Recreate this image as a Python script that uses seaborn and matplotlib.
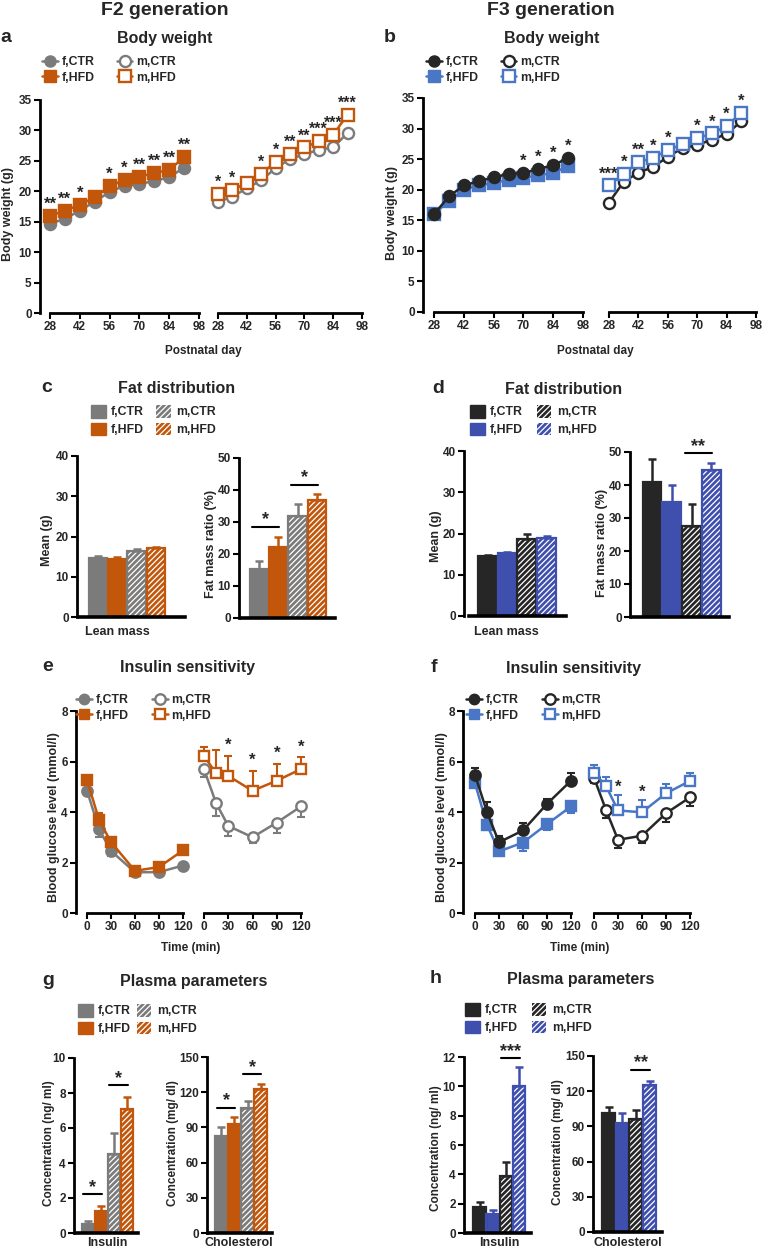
import numpy as np
import pandas as pd
import matplotlib
matplotlib.use("Agg")
import matplotlib.pyplot as plt
import seaborn as sns
from matplotlib.lines import Line2D
from matplotlib.patches import Patch

sns.set_style("white")
plt.rcParams["font.family"] = ["Liberation Sans", "DejaVu Sans"]
plt.rcParams["hatch.linewidth"] = 0.9

W, H = 769, 1250

# ---------------- colours ----------------
GRAY = "#7b7b7b"
ORANGE = "#c2570c"
DARK = "#262626"
BLUE_L = "#4a76c6"
BLUE_B = "#3f4fae"

# ---------------- data ----------------
groups = ["f,CTR", "f,HFD", "m,CTR", "m,HFD"]

days = [28, 35, 42, 49, 56, 63, 70, 77, 84, 91]
day_ticks = [28, 42, 56, 70, 84, 98]

f2_f_ctr = [14.65, 15.5, 16.8, 18.3, 19.9, 20.9, 21.2, 21.7, 22.3, 23.9]
f2_f_hfd = [16.0, 16.8, 17.8, 19.0, 20.8, 21.9, 22.4, 23.0, 23.5, 25.6]
f2_m_ctr = [18.3, 19.1, 20.5, 21.8, 23.8, 25.3, 26.1, 26.8, 27.2, 29.6]
f2_m_hfd = [19.5, 20.2, 21.4, 22.9, 24.8, 26.2, 27.2, 28.2, 29.3, 32.6]
f2_f_sig = ["**", "**", "*", "", "*", "*", "**", "**", "**", "**"]
f2_m_sig = ["*", "*", "", "*", "*", "**", "**", "***", "***", "***"]

f3_f_ctr = [16.0, 18.9, 20.7, 21.4, 22.0, 22.6, 22.7, 23.4, 24.0, 25.2]
f3_f_hfd = [16.0, 18.2, 20.0, 20.7, 21.1, 21.6, 21.9, 22.4, 22.7, 23.9]
f3_m_ctr = [17.9, 21.3, 22.8, 23.7, 25.4, 26.8, 27.3, 28.2, 29.1, 31.2]
f3_m_hfd = [20.7, 22.6, 24.5, 25.2, 26.5, 27.4, 28.4, 29.2, 30.4, 32.6]
f3_f_sig = ["", "", "", "", "", "", "*", "*", "*", "*"]
f3_m_sig = ["***", "*", "**", "*", "*", "", "*", "*", "*", "*"]

# insulin tolerance test
itt_time = [0, 15, 30, 60, 90, 120]
itt_ticks = [0, 30, 60, 90, 120]

e_f_ctr = [4.85, 3.32, 2.46, 1.61, 1.62, 1.88]
e_f_ctr_err = [0.15, 0.30, 0.20, 0.15, 0.10, 0.10]
e_f_hfd = [5.27, 3.69, 2.81, 1.67, 1.82, 2.48]
e_f_hfd_err = [0.10, 0.26, 0.10, 0.10, 0.10, 0.10]
e_m_ctr = [5.69, 4.35, 3.45, 3.00, 3.58, 4.22]
e_m_ctr_err = [0.30, 0.50, 0.42, 0.24, 0.40, 0.40]
e_m_hfd = [6.22, 5.53, 5.43, 4.84, 5.24, 5.70]
e_m_hfd_err = [0.37, 0.93, 0.80, 0.80, 0.66, 0.47]
e_m_sig = ["", "", "*", "*", "*", "*"]

f_f_ctr = [5.47, 4.00, 2.80, 3.27, 4.32, 5.24]
f_f_ctr_err = [0.27, 0.38, 0.25, 0.29, 0.20, 0.29]
f_f_hfd = [5.14, 3.49, 2.44, 2.79, 3.52, 4.22]
f_f_hfd_err = [0.15, 0.20, 0.15, 0.35, 0.22, 0.26]
f_m_ctr = [5.36, 4.08, 2.90, 3.06, 3.95, 4.58]
f_m_ctr_err = [0.20, 0.30, 0.33, 0.29, 0.33, 0.33]
f_m_hfd = [5.56, 5.03, 4.06, 3.99, 4.74, 5.23]
f_m_hfd_err = [0.30, 0.34, 0.62, 0.49, 0.36, 0.33]
f_m_sig = ["", "", "*", "*", "", ""]

# bars
c_lean = [14.7, 14.5, 16.5, 17.1]
c_lean_err = [0.4, 0.3, 0.4, 0.4]
c_fat = [15.2, 22.3, 32.0, 36.9]
c_fat_err = [2.6, 3.1, 3.5, 1.7]
c_fat_sig = [(0, 1, "*"), (2, 3, "*")]

d_lean = [14.5, 15.2, 18.6, 19.0]
d_lean_err = [0.4, 0.4, 1.4, 0.5]
d_fat = [41.0, 34.8, 27.5, 44.6]
d_fat_err = [6.8, 5.1, 6.6, 2.0]
d_fat_sig = [(2, 3, "**")]

g_ins = [0.51, 1.23, 4.52, 7.08]
g_ins_err = [0.15, 0.33, 1.17, 0.70]
g_ins_sig = [(0, 1, "*"), (2, 3, "*")]
g_chol = [82.4, 92.9, 106.5, 123.0]
g_chol_err = [7.6, 5.7, 5.7, 4.3]
g_chol_sig = [(0, 1, "*"), (2, 3, "*")]

h_ins = [1.75, 1.30, 3.90, 10.05]
h_ins_err = [0.34, 0.25, 0.92, 1.25]
h_ins_sig = [(2, 3, "***")]
h_chol = [101.0, 93.2, 96.0, 125.0]
h_chol_err = [5.8, 7.8, 8.0, 4.0]
h_chol_sig = [(2, 3, "**")]

# ---------------- helpers ----------------
fig = plt.figure(figsize=(W / 100, H / 100), dpi=100)
LABEL_FONT = ["Liberation Sans Narrow", "Liberation Sans", "DejaVu Sans"]


def fx(px):
    return px / W


def fy(py):
    return 1 - py / H


def px_axes(l, r, t, b):
    ax = fig.add_axes([fx(l), fy(b), (r - l) / W, (b - t) / H])
    ax.patch.set_alpha(0)
    for s in ("top", "right"):
        ax.spines[s].set_visible(False)
    return ax


def style_ticks(ax):
    ax.tick_params(axis="both", which="both", direction="out", length=4, width=1.5,
                   color="black", pad=2, labelsize=8.5, bottom=True, left=True)
    for lab in ax.get_xticklabels() + ax.get_yticklabels():
        lab.set_fontfamily("Liberation Sans")
        lab.set_fontweight("bold")


def ylabel_at(ax, text, xp, yp, size=9):
    ax.set_ylabel(text, fontfamily=LABEL_FONT, fontweight="bold", fontsize=size, va="center")
    ax.yaxis.set_label_coords(fx(xp), fy(yp), transform=fig.transFigure)


def xlabel_at(ax, text, xp, yp, size=8.5):
    ax.set_xlabel(text, fontfamily="Liberation Sans", fontweight="bold", fontsize=size, va="center")
    ax.xaxis.set_label_coords(fx(xp), fy(yp), transform=fig.transFigure)


def text_at(xp, yp, s, size, ha="center", va="baseline"):
    fig.text(fx(xp), fy(yp), s, fontsize=size, fontweight="bold", ha=ha, va=va,
             fontfamily="Liberation Sans")


def plot_series(ax, x, y, color, marker, filled, ms, z, err=None, err_up=True):
    if err is not None:
        zeros = [0] * len(err)
        yerr = [zeros, err] if err_up else [err, zeros]
        cont = ax.errorbar(x, y, yerr=yerr, fmt="none", ecolor=color, elinewidth=1.5,
                           capsize=3, capthick=1.5, zorder=z - 0.5)
        for art in cont.get_children():
            art.set_clip_on(False)
    sns.lineplot(x=x, y=y, ax=ax, color=color, marker=marker, markersize=ms,
                 markerfacecolor=color if filled else "white", markeredgecolor=color,
                 markeredgewidth=1.7, linewidth=1.8, zorder=z, clip_on=False, errorbar=None)


def stars(ax, x, y, labels, dy=3, size=12):
    for xi, yi, s in zip(x, y, labels):
        if s:
            ax.annotate(s, (xi, yi), xytext=(0, dy), textcoords="offset points", ha="center",
                        va="bottom", fontsize=size, fontweight="bold", annotation_clip=False,
                        fontfamily="Liberation Sans")


def style_line_axes(ax, xlim, ylim, xticks, yticks, show_y):
    ax.set_xlim(*xlim)
    ax.set_ylim(*ylim)
    ax.set_xticks(xticks)
    ax.spines["bottom"].set_bounds(xticks[0], xticks[-1])
    ax.spines["bottom"].set_linewidth(2)
    ax.spines["bottom"].set_color("black")
    if show_y:
        ax.set_yticks(yticks)
        ax.spines["left"].set_linewidth(2)
        ax.spines["left"].set_color("black")
    else:
        ax.spines["left"].set_visible(False)
        ax.set_yticks([])
    ax.grid(False)
    style_ticks(ax)
    if not show_y:
        ax.tick_params(left=False, labelleft=False)


def line_legend(handles, xp, yp, colsp):
    fig.legend(handles, groups, loc="upper left", bbox_to_anchor=(fx(xp), fy(yp)), ncol=2,
               frameon=False, prop=dict(family="Liberation Sans", weight="bold", size=8.8),
               handlelength=1.3, handletextpad=0.3, columnspacing=colsp, labelspacing=0.3,
               borderpad=0, borderaxespad=0)


def line_handles(c_ctr, c_hfd, ms):
    return [Line2D([0], [0], color=c_ctr, marker="o", ms=ms, mfc=c_ctr, mec=c_ctr, lw=1.8),
            Line2D([0], [0], color=c_hfd, marker="s", ms=ms, mfc=c_hfd, mec=c_hfd, lw=1.8),
            Line2D([0], [0], color=c_ctr, marker="o", ms=ms, mfc="white", mec=c_ctr, mew=1.7, lw=1.8),
            Line2D([0], [0], color=c_hfd, marker="s", ms=ms, mfc="white", mec=c_hfd, mew=1.7, lw=1.8)]


def bar_legend(colors, xp, yp, colsp):
    handles = [Patch(facecolor=colors[0], edgecolor=colors[0]),
               Patch(facecolor=colors[1], edgecolor=colors[1]),
               Patch(facecolor=colors[2], edgecolor="white", hatch="//////", lw=0),
               Patch(facecolor=colors[3], edgecolor="white", hatch="//////", lw=0)]
    fig.legend(handles, groups, loc="upper left", bbox_to_anchor=(fx(xp), fy(yp)), ncol=2,
               frameon=False, prop=dict(family="Liberation Sans", weight="bold", size=8.8),
               handlelength=1.2, handleheight=1.2, handletextpad=0.45, columnspacing=colsp,
               labelspacing=0.35, borderpad=0, borderaxespad=0)


def bar_axes(yspine, c0, c3, right, top, bottom, xstart):
    ax = px_axes(yspine, right, top, bottom)
    unit = (c3 - c0) / 3.0
    lim = ((yspine - c0) / unit, (right - c0) / unit)
    start = (xstart - c0) / unit
    return ax, lim, start


def bar_panel(ax, lim, start, vals, errs, colors, ylim, yticks, sig, sig_off):
    df = pd.DataFrame({"group": groups, "value": vals})
    sns.barplot(data=df, x="group", y="value", hue="group", palette=colors, order=groups,
                hue_order=groups, width=0.95, saturation=1, errorbar=None, legend=False,
                ax=ax, linewidth=0)
    for i, p in enumerate(ax.patches):
        if i >= 2:
            p.set_hatch("//////")
            p.set_edgecolor("white")
            p.set_linewidth(0)
    sns.barplot(data=df, x="group", y="value", hue="group", palette=colors, order=groups,
                hue_order=groups, width=0.95, saturation=1, errorbar=None, legend=False,
                ax=ax, fill=False, linewidth=1.6)
    for i in range(4):
        ax.errorbar([i], [vals[i]], yerr=[[0], [errs[i]]], fmt="none", ecolor=colors[i],
                    elinewidth=1.8, capsize=3, capthick=1.8, zorder=5)
    for (i, j, s) in sig:
        top = max(vals[i] + errs[i], vals[j] + errs[j]) + sig_off
        ax.plot([i - 0.35, j + 0.05], [top, top], color="black", lw=1.5, clip_on=False)
        ax.annotate(s, ((i + j) / 2 - 0.15, top), xytext=(0, -1), textcoords="offset points",
                    ha="center", va="bottom", fontsize=13, fontweight="bold",
                    annotation_clip=False, fontfamily="Liberation Sans")
    ax.set_xlim(*lim)
    ax.set_ylim(*ylim)
    ax.set_yticks(yticks)
    ax.set_xticks([])
    ax.set_xlabel("")
    ax.set_ylabel("")
    ax.spines["bottom"].set_bounds(start, lim[1])
    ax.spines["bottom"].set_linewidth(2.6)
    ax.spines["bottom"].set_color("black")
    ax.spines["left"].set_linewidth(2)
    ax.spines["left"].set_color("black")
    ax.grid(False)
    style_ticks(ax)


# ---------------- titles ----------------
text_at(165, 15, "F2 generation", 14)
text_at(551, 15, "F3 generation", 14)
for (lx, ly, letter, tx, title) in [
        (6, 42, "a", 165, "Body weight"), (390, 42, "b", 552, "Body weight"),
        (47, 392, "c", 177, "Fat distribution"), (438, 393, "d", 564, "Fat distribution"),
        (48, 671, "e", 187, "Insulin sensitivity"), (434, 672, "f", 574, "Insulin sensitivity"),
        (48, 985, "g", 194, "Plasma parameters"), (436, 983, "h", 581, "Plasma parameters")]:
    text_at(lx, ly, letter, 14)
    text_at(tx, ly + 1, title, 11.5)

# ---------------- panel a ----------------
axL = px_axes(40, 199, 100, 313)
axR = px_axes(218, 362, 100, 313)
plot_series(axL, days, f2_f_ctr, GRAY, "o", True, 8, 3)
plot_series(axL, days, f2_f_hfd, ORANGE, "s", True, 8, 4)
plot_series(axR, days, f2_m_ctr, GRAY, "o", False, 8, 3)
plot_series(axR, days, f2_m_hfd, ORANGE, "s", False, 8, 4)
stars(axL, days, np.maximum(f2_f_ctr, f2_f_hfd), f2_f_sig)
stars(axR, days, np.maximum(f2_m_ctr, f2_m_hfd), f2_m_sig, size=11.5)
style_line_axes(axL, (23.3, 98), (0, 35), day_ticks, range(0, 36, 5), True)
style_line_axes(axR, (28, 98), (0, 35), day_ticks, [], False)
ylabel_at(axL, "Body weight (g)", 8, 214)
text_at(203, 354, "Postnatal day", 8.5)
line_legend(line_handles(GRAY, ORANGE, 8), 42, 56, 1.8)

# ---------------- panel b ----------------
axL = px_axes(423, 583, 98, 312)
axR = px_axes(609, 756, 98, 312)
plot_series(axL, days, f3_f_hfd, BLUE_L, "s", True, 8, 3)
plot_series(axL, days, f3_f_ctr, DARK, "o", True, 8, 4)
plot_series(axR, days, f3_m_ctr, DARK, "o", False, 8, 3)
plot_series(axR, days, f3_m_hfd, BLUE_L, "s", False, 8, 4)
stars(axL, days, np.maximum(f3_f_ctr, f3_f_hfd), f3_f_sig)
stars(axR, days, np.maximum(f3_m_ctr, f3_m_hfd), f3_m_sig)
style_line_axes(axL, (22.8, 98), (0, 35), day_ticks, range(0, 36, 5), True)
style_line_axes(axR, (28, 98), (0, 35), day_ticks, [], False)
ylabel_at(axL, "Body weight (g)", 392, 213)
text_at(595, 354, "Postnatal day", 8.5)
line_legend(line_handles(DARK, BLUE_L, 8), 426, 56, 1.8)

# ---------------- panel c ----------------
F2_BAR = [GRAY, ORANGE, GRAY, ORANGE]
F3_BAR = [DARK, BLUE_B, DARK, BLUE_B]

ax, lim, st = bar_axes(77, 98, 156, 185, 456, 617, 80)
bar_panel(ax, lim, st, c_lean, c_lean_err, F2_BAR, (0, 40), range(0, 41, 10), [], 0)
ylabel_at(ax, "Mean (g)", 47, 540)
xlabel_at(ax, "Lean mass", 117, 632, 9)
ax, lim, st = bar_axes(239, 259, 317, 335, 458, 618, 242)
bar_panel(ax, lim, st, c_fat, c_fat_err, F2_BAR, (0, 50), range(0, 51, 10), c_fat_sig, 3)
ylabel_at(ax, "Fat mass ratio (%)", 211, 544)
bar_legend(F2_BAR, 91, 405, 1.0)

# ---------------- panel d ----------------
ax, lim, st = bar_axes(464, 487.5, 546.5, 566, 451, 616, 469)
bar_panel(ax, lim, st, d_lean, d_lean_err, F3_BAR, (0, 40), range(0, 41, 10), [], 0)
ylabel_at(ax, "Mean (g)", 436, 536)
xlabel_at(ax, "Lean mass", 506, 632, 9)
ax, lim, st = bar_axes(630, 652, 711.3, 729, 452, 617, 633)
bar_panel(ax, lim, st, d_fat, d_fat_err, F3_BAR, (0, 50), range(0, 51, 10), d_fat_sig, 3)
ylabel_at(ax, "Fat mass ratio (%)", 602, 543)
bar_legend(F3_BAR, 470, 405, 1.1)

# ---------------- panel e ----------------
axL = px_axes(76, 183, 711, 913)
axR = px_axes(204, 301, 711, 913)
plot_series(axL, itt_time, e_f_ctr, GRAY, "o", True, 7.5, 3, e_f_ctr_err, False)
plot_series(axL, itt_time, e_f_hfd, ORANGE, "s", True, 7.5, 4, e_f_hfd_err, True)
plot_series(axR, itt_time, e_m_ctr, GRAY, "o", False, 7.5, 3, e_m_ctr_err, False)
plot_series(axR, itt_time, e_m_hfd, ORANGE, "s", False, 7.5, 4, e_m_hfd_err, True)
stars(axR, itt_time, np.add(e_m_hfd, e_m_hfd_err), e_m_sig, dy=2)
style_line_axes(axL, (-13.75, 120), (0, 8), itt_ticks, range(0, 9, 2), True)
style_line_axes(axR, (0, 120), (0, 8), itt_ticks, [], False)
ylabel_at(axL, "Blood glucose level (mmol/l)", 54, 817)
text_at(191, 951, "Time (min)", 8.5)
line_legend(line_handles(GRAY, ORANGE, 7.5), 76, 694, 1.9)

# ---------------- panel f ----------------
axL = px_axes(463, 571, 711, 913)
axR = px_axes(594, 690, 711, 913)
plot_series(axL, itt_time, f_f_ctr, DARK, "o", True, 7.5, 4, f_f_ctr_err, True)
plot_series(axL, itt_time, f_f_hfd, BLUE_L, "s", True, 7.5, 3, f_f_hfd_err, False)
plot_series(axR, itt_time, f_m_ctr, DARK, "o", False, 7.5, 3, f_m_ctr_err, False)
plot_series(axR, itt_time, f_m_hfd, BLUE_L, "s", False, 7.5, 4, f_m_hfd_err, True)
stars(axR, itt_time, np.add(f_m_hfd, f_m_hfd_err), f_m_sig, dy=0)
style_line_axes(axL, (-15, 120), (0, 8), itt_ticks, range(0, 9, 2), True)
style_line_axes(axR, (0, 120), (0, 8), itt_ticks, [], False)
ylabel_at(axL, "Blood glucose level (mmol/l)", 442, 817)
text_at(580, 951, "Time (min)", 8.5)
line_legend(line_handles(DARK, BLUE_L, 7.5), 466, 694, 1.9)

# ---------------- panel g ----------------
ax, lim, st = bar_axes(74, 88, 127, 138, 1058, 1233, 76)
bar_panel(ax, lim, st, g_ins, g_ins_err, F2_BAR, (0, 10), range(0, 11, 2), g_ins_sig, 0.65)
ylabel_at(ax, "Concentration (ng/ ml)", 49, 1143, 8.5)
xlabel_at(ax, "Insulin", 107, 1243, 9)
ax, lim, st = bar_axes(207, 221.5, 260.5, 272, 1057, 1233, 208)
bar_panel(ax, lim, st, g_chol, g_chol_err, F2_BAR, (0, 150), range(0, 151, 30), g_chol_sig, 8)
ylabel_at(ax, "Concentration (mg/ dl)", 173, 1143, 8.5)
xlabel_at(ax, "Cholesterol", 239, 1243, 9)
bar_legend(F2_BAR, 78, 1004, 0.45)

# ---------------- panel h ----------------
ax, lim, st = bar_axes(464, 479.5, 519, 531, 1057, 1233, 467)
bar_panel(ax, lim, st, h_ins, h_ins_err, F3_BAR, (0, 12), range(0, 13, 2), h_ins_sig, 0.6)
ylabel_at(ax, "Concentration (ng/ ml)", 436, 1148, 8.5)
xlabel_at(ax, "Insulin", 499, 1243, 9)
ax, lim, st = bar_axes(593, 608.5, 649.5, 662, 1056, 1232, 596)
bar_panel(ax, lim, st, h_chol, h_chol_err, F3_BAR, (0, 150), range(0, 151, 30), h_chol_sig, 9)
ylabel_at(ax, "Concentration (mg/ dl)", 558, 1142, 8.5)
xlabel_at(ax, "Cholesterol", 628, 1243, 9)
bar_legend(F3_BAR, 465, 1003, 1.1)

fig.savefig("out.png", dpi=100)
